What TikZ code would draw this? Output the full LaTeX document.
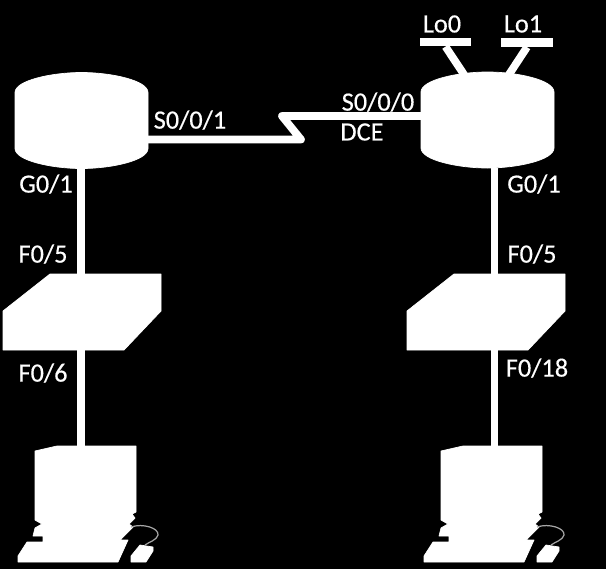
\documentclass[tikz,border=0pt]{standalone}
\usepackage{fontspec}
\setmainfont[FakeBold=0.4]{Carlito}
\tikzset{dev/.style={fill=white, draw=white, line width=0.4pt, line join=round},
         wire/.style={draw=white, line width=0.155cm},
         lbl/.style={text=white, inner sep=0pt, font=\fontsize{15}{17}\selectfont},
         box/.style={inner sep=0pt, minimum width=#1},
         lobar/.style={fill=white, inner sep=0pt, minimum width=1.04cm, minimum height=0.17cm},
         router/.pic={
           \fill[dev] (-66.5,-28) .. controls (-66.5,-40) and (-30,-48) .. (0,-48)
             .. controls (30,-48) and (66.5,-40) .. (66.5,-28) -- (66.5,28)
             .. controls (66.5,40) and (30,48) .. (0,48)
             .. controls (-30,48) and (-66.5,40) .. (-66.5,28) -- cycle;
           \node[box=2.66cm, minimum height=1.92cm] (-box) at (0,0) {};},
         switchbox/.pic={
           \fill[dev] (-32,-38) -- (79,-38) -- (79,-1) -- (42,38) -- (-79,38) -- (-79,-1) -- cycle;
           \node[box=3.16cm, minimum height=1.52cm] (-box) at (0,0) {};},
         computer/.pic={
           \fill[dev] (-42,-53) -- (-20,-58) -- (59,-58) -- (59,8) -- (55,10) -- (58,14) -- (52,20)
             -- (56,23) -- (43,36) -- (51,36) -- (41,58) -- (-59,58) -- (-59,52) -- (-50,38)
             -- (-34,38) -- (-34,32) -- (-44,32) -- (-42,24) -- (-35,20) -- (-42,16) -- cycle;
           \fill[dev] (63,41) -- (76,43) -- (76,47) -- (69,58) -- (54,58) -- (54,52) -- cycle;
           \draw[gray!70, line width=0.7pt] (54,23) .. controls (66,19) and (82,24) .. (81,31)
             .. controls (80,36) and (72,38) .. (68,41);
           \node[box=2.36cm, minimum height=2.32cm] (-box) at (0,0) {};}}

\begin{document}
\begin{tikzpicture}[x=0.02cm, y=-0.02cm]

  % ---------- background ----------
  \fill[black] (0,0) rectangle (606,569);
  \useasboundingbox (0,0) rectangle (606,569);

  % ---------- the drops ----------
  \coordinate (dropl) at (81,0);
  \coordinate (dropr) at (494.5,0);

  % ---------- devices ----------
  \pic (R1) at (81.5,120.5) {router};
  \pic (R2) at (487.5,120) {router};
  \pic (S1) at (82,312) {switchbox};
  \pic (S2) at (486,312) {switchbox};
  \pic (PC1) at (77,504) {computer};
  \pic (PC2) at (483,504) {computer};

  % ---------- loopbacks ----------
  \node[lobar] (L0) at (445.5,42) {};
  \node[lobar] (L1) at (527,42.5) {};
  \coordinate (loa) at (465,76);
  \coordinate (lob) at (508,76);
  \draw[wire] (L0.south) -- (loa);
  \draw[wire] (L1.south) -- (lob);

  % ---------- links ----------
  \draw[wire] (R1-box.south -| dropl) -- (S1-box.north -| dropl);
  \draw[wire] (S1-box.south -| dropl) -- (PC1-box.north -| dropl);
  \draw[wire] (R2-box.south -| dropr) -- (S2-box.north -| dropr);
  \draw[wire] (S2-box.south -| dropr) -- (PC2-box.north -| dropr);

  % ---------- serial link with its zigzag ----------
  \coordinate (zig1) at (148,139.5);
  \coordinate (zig2) at (301,139.5);
  \coordinate (zig3) at (282,116);
  \coordinate (zig4) at (421,116);
  \draw[wire, line join=round] (zig1) -- (zig2) -- (zig3) -- (zig4);

  % ---------- labels ----------
  \node[lbl] (tS1) at (190,120) {S0/0/1};
  \node[lbl] (tS0) at (378,102) {S0/0/0};
  \node[lbl] (tDCE) at (362,132) {DCE};
  \node[lbl] (tLo0) at (442,24) {Lo0};
  \node[lbl] (tLo1) at (523,24) {Lo1};
  \node[lbl] (tG1) at (46,184) {G0/1};
  \node[lbl] (tF5) at (43,254) {F0/5};
  \node[lbl] (tF6) at (43,373) {F0/6};
  \node[lbl] (tG2) at (534,184) {G0/1};
  \node[lbl] (tF7) at (532,254) {F0/5};
  \node[lbl] (tF18) at (537,368) {F0/18};

\end{tikzpicture}
\end{document}
